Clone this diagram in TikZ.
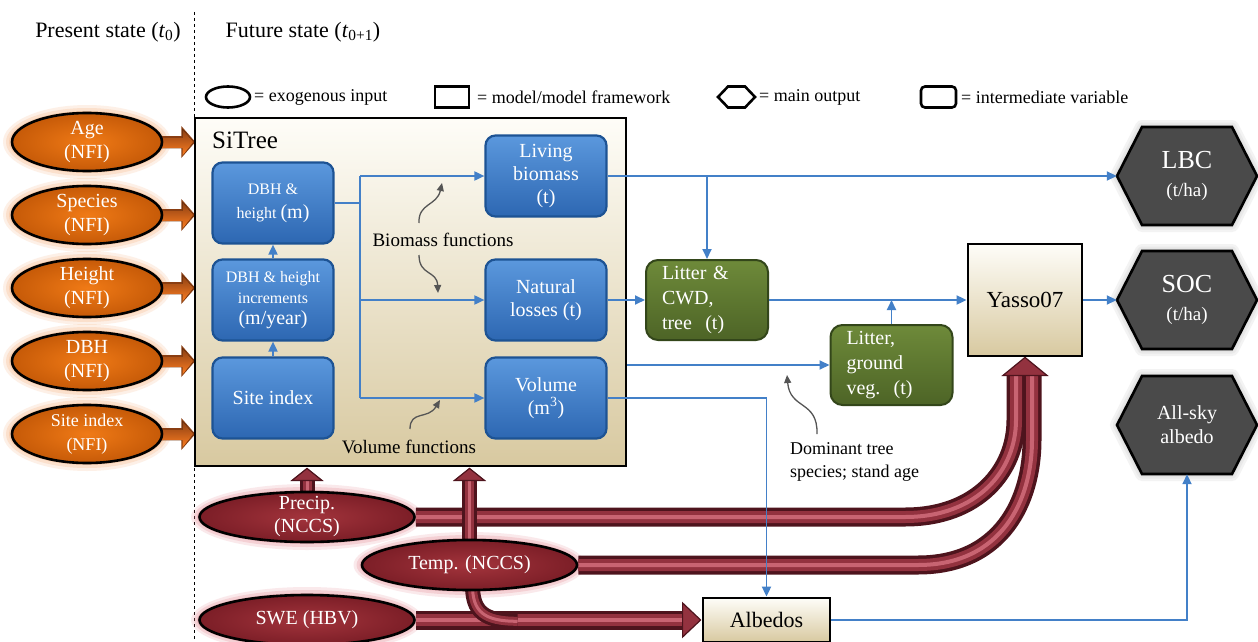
\documentclass[tikz,border=0pt]{standalone}
\usepackage{fontspec}
\setmainfont{Liberation Serif}
\usetikzlibrary{arrows.meta,shapes.geometric,calc}
\pgfdeclarelayer{bg}
\pgfsetlayers{bg,main}
\newcommand{\fsz}[2]{\fontsize{#1}{#2}\selectfont}
\definecolor{boxtop}{HTML}{FEFDF8}
\definecolor{boxbot}{HTML}{D8C9A0}
\definecolor{btop}{HTML}{5B98DD}
\definecolor{bbot}{HTML}{2D67B2}
\definecolor{bedge}{HTML}{1D5394}
\definecolor{lnkc}{HTML}{4380C8}
\definecolor{gtop}{HTML}{6E8A3A}
\definecolor{gbot}{HTML}{4D6426}
\definecolor{gedge}{HTML}{33461A}
\definecolor{orin}{HTML}{F07A16}
\definecolor{orout}{HTML}{C65A08}
\definecolor{orglow}{HTML}{F5A060}
\definecolor{redin}{HTML}{A3343C}
\definecolor{redout}{HTML}{7C1E27}
\definecolor{redglow}{HTML}{E0707C}
\definecolor{tdark}{HTML}{4E141D}
\definecolor{tmid}{HTML}{93323F}
\definecolor{tlight}{HTML}{C86472}
\definecolor{hexfill}{HTML}{4A4A4A}
\definecolor{annotc}{HTML}{555555}
\definecolor{arrdark}{HTML}{8A3E12}
\definecolor{arrlight}{HTML}{FF7F22}
\tikzset{
  modelbox/.style={draw=black, line width=2.8pt, top color=boxtop, bottom color=boxbot, inner sep=0pt},
  bluebox/.style={draw=bedge, line width=2.2pt, rounded corners=10pt, top color=btop, bottom color=bbot, text=white, minimum width=121pt, minimum height=81pt, align=center, inner sep=0pt, font=\fsz{20}{23}},
  greenbox/.style={draw=gedge, line width=2pt, rounded corners=12pt, top color=gtop, bottom color=gbot, text=white, minimum width=122pt, minimum height=80pt, text width=90pt, align=left, inner sep=0pt, font=\fsz{20}{25}},
  exo/.style={ellipse, draw=black, line width=2.6pt, inner color=orin, outer color=orout, minimum width=150pt, minimum height=58pt, inner sep=0pt},
  exotext/.style={text=white, align=center, inner sep=0pt, font=\fsz{20}{24}},
  clim/.style={ellipse, draw=black, line width=2.6pt, inner color=redin, outer color=redout, minimum width=215pt, minimum height=50pt, inner sep=0pt},
  climtext/.style={text=white, align=center, inner sep=0pt, font=\fsz{20}{23}},
  lnk/.style={draw=lnkc, line width=1.8pt, -{Triangle[length=10pt,width=9pt]}},
  lnkl/.style={draw=lnkc, line width=1.8pt},
  annot/.style={draw=annotc, line width=1.3pt, -{Triangle[length=8pt,width=7pt]}},
  tube/.style={line width=19pt, draw=tdark, postaction={draw=tmid, line width=12pt}, postaction={draw=tlight, line width=4pt}},
  tubev/.style={line width=15pt, draw=tdark, postaction={draw=tmid, line width=9pt}, postaction={draw=tlight, line width=3pt}},
  tubehead/.style={fill=tmid, draw=tdark, line width=1.2pt, line join=miter},
  hexshape/.style={fill=hexfill, draw=black, line width=2.6pt, line join=miter},
  hexglow/.style={draw=gray!50, line width=#1, opacity=.18, line join=round},
  hextext/.style={text=white, align=center, inner sep=0pt, minimum width=140pt, minimum height=98pt},
  legtext/.style={anchor=west, inner sep=0pt, font=\fsz{18}{20}},
}
\newcommand{\exonode}[4]{%
  \node[exo] (#1) at (#2) {};
  \node[exotext,font=\fsz{#4}{24}] (#1t) at (#1.center) {#3};
  \begin{pgfonlayer}{bg}
    \fill[orglow, opacity=.15] (#1.center) ellipse [x radius=84, y radius=37];
    \fill[orglow, opacity=.2] (#1.center) ellipse [x radius=81, y radius=34];
    \fill[orglow, opacity=.25] (#1.center) ellipse [x radius=78, y radius=31];
    \fill[arrdark] ($(#1.east)+(-2,-6)$) -- ($(#1.east)+(18,-6)$) -- ($(#1.east)+(18,-16)$) -- ($(#1.east)+(32,0)$) -- ($(#1.east)+(18,16)$) -- ($(#1.east)+(18,6)$) -- ($(#1.east)+(-2,6)$) -- cycle;
    \fill[top color=arrdark, bottom color=arrlight] ($(#1.east)+(-2,-4)$) -- ($(#1.east)+(19,-4)$) -- ($(#1.east)+(19,-13)$) -- ($(#1.east)+(30,0)$) -- ($(#1.east)+(19,14)$) -- ($(#1.east)+(19,6)$) -- ($(#1.east)+(-2,6)$) -- cycle;
  \end{pgfonlayer}
}
\newcommand{\climglow}[1]{%
  \begin{pgfonlayer}{bg}
    \fill[redglow, opacity=.15] (#1.center) ellipse [x radius=116, y radius=33];
    \fill[redglow, opacity=.2] (#1.center) ellipse [x radius=113, y radius=30];
    \fill[redglow, opacity=.25] (#1.center) ellipse [x radius=110, y radius=27];
  \end{pgfonlayer}
}
\newcommand{\hexnode}[5]{%
  \foreach \gw in {14,9,5}{
  \draw[hexglow=\gw pt] (#2-70,#3) -- (#2-45,#3-49) -- (#2+45,#3-49) -- (#2+70,#3) -- (#2+45,#3+49) -- (#2-45,#3+49) -- cycle;}
  \draw[hexshape] (#2-70,#3) -- (#2-45,#3-49) -- (#2+45,#3-49) -- (#2+70,#3) -- (#2+45,#3+49) -- (#2-45,#3+49) -- cycle;
  \node[hextext, font=#5] (#1) at (#2,#3) {#4};
}
\begin{document}
\begin{tikzpicture}[x=1pt,y=-1pt]
\useasboundingbox (0,0) rectangle (1258,642);
\begin{pgfonlayer}{bg}
  \fill[white] (0,0) rectangle (1258,642);
  \coordinate (dtop) at (194,12);
  \coordinate (dbot) at (194,642);
  \draw[dashed, line width=1pt] (dtop) -- (dbot);
\end{pgfonlayer}

% headers
\node[font=\fsz{22}{24}, inner sep=0pt] (present) at (108,32) {Present state (\textit{t}\textsubscript{0})};
\node[font=\fsz{22}{24}, inner sep=0pt] (future) at (303,32) {Future state (\textit{t}\textsubscript{0+1})};

% legend
\node[draw, ellipse, line width=2.6pt, minimum width=44pt, minimum height=21pt, inner sep=0pt] (lgexo) at (228,97) {};
\node[legtext] (lgexot) at (254,97) {= exogenous input};
\node[draw, line width=2.6pt, minimum width=34pt, minimum height=21pt, inner sep=0pt] (lgmod) at (452,97) {};
\node[legtext] (lgmodt) at (477,97) {= model/model framework};
\draw[line width=2.6pt, line join=miter] (718,97) -- (728,86.5) -- (745,86.5) -- (755,97) -- (745,107.5) -- (728,107.5) -- cycle;
\node[legtext] (lghext) at (759,97) {= main output};
\node[draw, line width=2.6pt, rounded corners=4pt, minimum width=35pt, minimum height=21pt, inner sep=0pt] (lgint) at (938.5,97) {};
\node[legtext] (lgintt) at (961,97) {= intermediate variable};

% SiTree framework
\node[modelbox, minimum width=431pt, minimum height=348pt] (sitree) at (410.5,292) {};
\node[anchor=west, inner sep=0pt, font=\fsz{25}{28}] (sitreelbl) at (212,140) {SiTree};

\node[bluebox, font=\fsz{16}{24}] (dbh) at (273,203) {DBH \&\\height {\fsz{20}{24}(m)}};
\node[bluebox, font=\fsz{16}{21}] (incr) at (273,300) {DBH \& height\\increments\\{\fsz{20}{22}(m/year)}};
\node[bluebox] (site) at (273,398) {Site index};
\node[bluebox] (living) at (546,176) {Living\\biomass\\(t)};
\node[bluebox] (natural) at (546,300) {Natural\\losses (t)};
\node[bluebox] (volume) at (546,398) {Volume\\(m\textsuperscript{3})};

\draw[lnk] (site.north) -- (incr.south);
\draw[lnk] (incr.north) -- (dbh.south);
\coordinate (jn) at (360,203);
\draw[lnkl] (dbh.east) -- (jn);
\draw[lnkl] (jn |- living.west) -- (jn |- volume.west);
\draw[lnk] (jn |- living.west) -- (living.west);
\draw[lnk] (jn |- natural.west) -- (natural.west);
\draw[lnk] (jn |- volume.west) -- (volume.west);

% annotations
\node[inner sep=0pt, font=\fsz{19}{22}] (biofun) at (443,240) {Biomass functions};
\coordinate (bioa) at (419,223);
\coordinate (bioup) at (442,183);
\coordinate (biob) at (419,255);
\coordinate (biodn) at (438,293);
\draw[annot] (bioa) .. controls (418,203) and (437,206) .. (bioup);
\draw[annot] (biob) .. controls (419,276) and (437,270) .. (biodn);
\node[inner sep=0pt, font=\fsz{19}{22}] (volfun) at (409,447) {Volume functions};
\coordinate (vola) at (410,429);
\coordinate (volup) at (440,400);
\draw[annot] (vola) .. controls (410,410) and (428,420) .. (volup);

% green intermediate
\node[greenbox] (cwd) at (707,300) {Litter \&\\CWD,\\tree~~(t)};
\node[greenbox] (ground) at (891.5,365) {Litter,\\ground\\veg.~~(t)};

% models
\node[modelbox, minimum width=114pt, minimum height=112pt, font=\fsz{23}{26}] (yasso) at (1025,300) {Yasso07};
\node[modelbox, minimum width=127pt, minimum height=44pt, font=\fsz{22}{24}] (albedos) at (766.5,620) {Albedos};

% outputs
\hexnode{lbc}{1187}{176}{{\fsz{26}{28}LBC}\\(t/ha)}{\fsz{19}{28}}
\hexnode{soc}{1187}{300}{{\fsz{26}{28}SOC}\\(t/ha)}{\fsz{19}{28}}
\hexnode{allsky}{1187}{425}{All-sky\\albedo}{\fsz{20}{24}}

\node[anchor=west, align=left, inner sep=0pt, font=\fsz{18}{23}] (dom) at (790,462) {Dominant tree\\species; stand age};
\coordinate (doma) at (817,434);
\coordinate (domup) at (787,375);
\draw[annot] (doma) .. controls (818,400) and (790,410) .. (domup);

% blue links right side
\draw[lnk] (living.east) -- (lbc.west);
\draw[lnk] (cwd.north |- living.east) -- (cwd.north);
\draw[lnk] (natural.east) -- (cwd.west);
\draw[lnk] (cwd.east) -- (yasso.west);
\draw[lnk] (ground.north) -- (ground.north |- cwd.east);
\draw[lnk] (sitree.east |- ground.west) -- (ground.west);
\draw[lnk] (yasso.east) -- (soc.west);

% exogenous inputs
\exonode{age}{87,142}{Age\\(NFI)}{20}
\exonode{species}{87,215}{Species\\(NFI)}{20}
\exonode{height}{87,288}{Height\\(NFI)}{20}
\exonode{dbhin}{87,361}{DBH\\(NFI)}{20}
\exonode{sitein}{87,434}{Site index\\(NFI)}{18}

% climate inputs
\node[clim] (precip) at (307,517) {};
\node[climtext] (precipt) at (precip.center) {Precip.\\(NCCS)};
\node[clim] (temp) at (469.5,565) {};
\node[climtext] (tempt) at (temp.center) {Temp. (NCCS)};
\node[clim] (swe) at (307,620) {};
\node[climtext] (swet) at (swe.center) {SWE (HBV)};
\climglow{precip}
\climglow{temp}
\climglow{swe}

\begin{pgfonlayer}{bg}
  % precip and temp to Yasso07
  \draw[tube] (precip.east) -- (905,517) .. controls (978,517) and (1016,470) .. (1016,420) -- (1016,376);
  \draw[tube] (temp.east) -- (918,565) .. controls (1002,565) and (1032,500) .. (1032,440) -- (1032,376);
  \coordinate (yh) at (yasso.south);
  \filldraw[tubehead] ($(yh)+(-22,18)$) -- (yh) -- ($(yh)+(22,18)$) -- cycle;
  % up arrows to SiTree
  \coordinate (pa) at (precip.north |- sitree.south);
  \draw[tubev] (precip.north) -- ($(pa)+(0,12)$);
  \filldraw[tubehead] ($(pa)+(-15,13)$) -- ($(pa)+(0,1)$) -- ($(pa)+(15,13)$) -- cycle;
  \coordinate (ta) at (temp.north |- sitree.south);
  \draw[tubev] (temp.north) -- ($(ta)+(0,12)$);
  \filldraw[tubehead] ($(ta)+(-15,13)$) -- ($(ta)+(0,1)$) -- ($(ta)+(15,13)$) -- cycle;
  % SWE to Albedos
  \draw[tube] (swe.east) -- ($(albedos.west)+(-18,0)$);
  \filldraw[tubehead] ($(albedos.west)+(-19,-17)$) -- ($(albedos.west)+(-1,0)$) -- ($(albedos.west)+(-19,17)$) -- cycle;
  \draw[tubev] ($(temp.south)+(3,-6)$) .. controls ($(temp.south)+(3,20)$) and ($(temp.south)+(14,30)$) .. ($(temp.south)+(48,30)$);
\end{pgfonlayer}

% links over the bands
\draw[lnk] (volume.east) -| (albedos.north);
\draw[lnk] (albedos.east) -| (allsky.south);
\end{tikzpicture}
\end{document}
